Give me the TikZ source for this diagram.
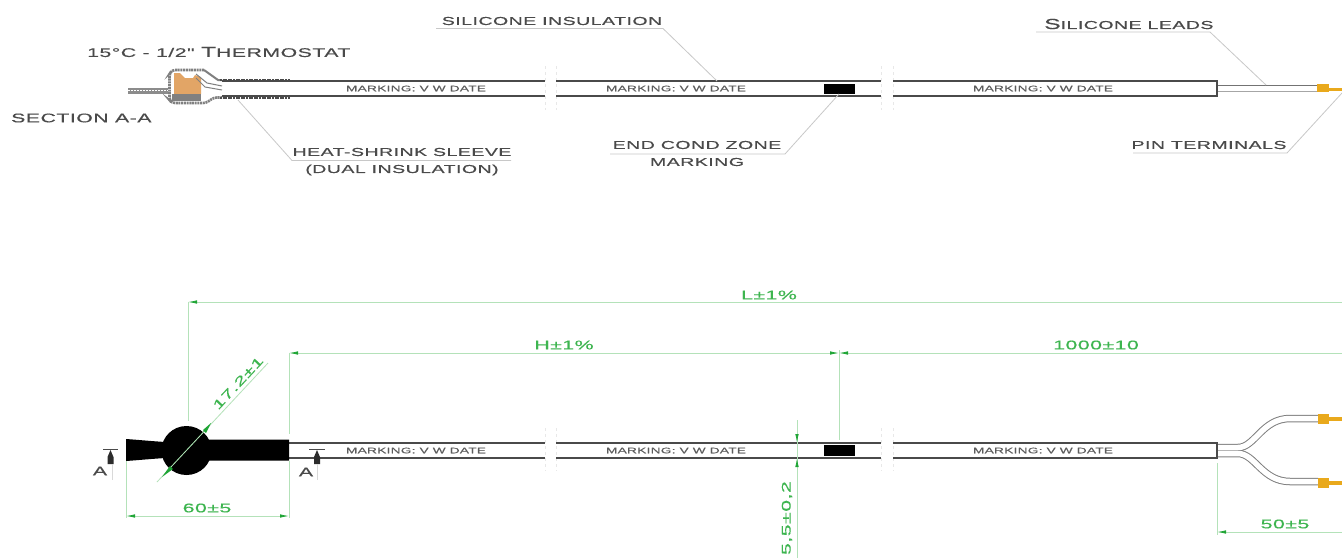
\documentclass[tikz,border=0pt]{standalone}
\usepackage{fontspec}
\usetikzlibrary{arrows.meta}
\newfontfamily\widefont[FakeStretch=1.7,LetterSpace=4,FakeBold=0.4]{Liberation Sans}
\newcommand{\capbig}[1]{{\fontsize{14.5}{14}\selectfont #1}}
\definecolor{dimline}{HTML}{B4E2B9}
\definecolor{dimtip}{HTML}{1FA535}
\definecolor{dimtext}{HTML}{3DB54F}
\definecolor{inkgray}{HTML}{4A4A4A}
\definecolor{leadergray}{HTML}{C8C8C8}
\definecolor{copper}{HTML}{E2A566}
\definecolor{pinorange}{HTML}{E9A91C}
\tikzset{
  lbl/.style={font=\widefont\fontsize{11.5}{12}\selectfont, text=inkgray, inner sep=0pt},
  bigl/.style={font=\widefont\fontsize{12.5}{13}\selectfont, text=inkgray, inner sep=0pt},
  marklbl/.style={font=\widefont\fontsize{8}{8}\selectfont, text=inkgray!90, inner sep=0pt},
  dimlbl/.style={font=\widefont\fontsize{12.5}{13}\selectfont, text=dimtext, inner sep=0pt},
  leader/.style={draw=leadergray, line width=.8pt},
  dimension/.style={draw=dimline, line width=.8pt},
  ext/.style={draw=dimline, line width=.8pt},
  tipb/.style={{Latex[length=9pt,width=3.5pt,color=dimtip]}-},
  tipe/.style={-{Latex[length=9pt,width=3.5pt,color=dimtip]}},
  tipbe/.style={{Latex[length=9pt,width=3.5pt,color=dimtip]}-{Latex[length=9pt,width=3.5pt,color=dimtip]}},
  cable/.style={draw=inkgray, line width=1.8pt},
  gapmark/.style={draw=black!9, line width=.5pt, dashed},
  secline/.style={draw=black!15, line width=.5pt},
}
\begin{document}
\begin{tikzpicture}[x=1pt,y=-1pt]
\useasboundingbox (0,0) rectangle (1342,558);
\fill[white] (0,0) rectangle (1342,558);

% ---------- gap ticks
\foreach \gx in {545,556,881,893}{
  \draw[gapmark] (\gx,66) -- (\gx,110);
  \draw[gapmark] (\gx,428) -- (\gx,471);
}

% ---------- cables
\foreach \ya/\yb/\xs/\xe in {81/96/222/545,81/96/556/881,81/96/893/1217,443/458/289/545,443/458/556/881,443/458/893/1217}{
  \draw[cable] (\xs,\ya) -- (\xe,\ya);
  \draw[cable] (\xs,\yb) -- (\xe,\yb);
}
\draw[cable] (1217,80.1) -- (1217,96.9);
\draw[cable] (1217,442.1) -- (1217,458.9);

\node[marklbl] (m1) at (416,88.5) {MARKING: V W DATE};
\node[marklbl] (m2) at (676,88.5) {MARKING: V W DATE};
\node[marklbl] (m3) at (1043,88.5) {MARKING: V W DATE};
\node[marklbl] (m4) at (416,450.5) {MARKING: V W DATE};
\node[marklbl] (m5) at (676,450.5) {MARKING: V W DATE};
\node[marklbl] (m6) at (1043,450.5) {MARKING: V W DATE};
\fill[black] (824,84) rectangle (855,93.5);
\fill[black] (824,445) rectangle (855,455.5);

% ---------- section A-A thermostat
\fill[black!45] (128,88) rectangle (168,93.5);
\draw[white,line width=.6pt,dash pattern=on 1.5pt off 1.5pt] (128,90.7) -- (168,90.7);
\fill[copper] (174,73) -- (180,73) -- (185,78) -- (193,78) -- (195,75) -- (201,77) -- (201,94) -- (174,94) -- cycle;
\fill[black!50] (172,94) rectangle (201,101);
\draw[black!50,line width=2.6pt,dash pattern=on 2pt off .7pt,rounded corners=3pt]
  (204,70) -- (172,70) -- (169.5,74) -- (169.5,100) -- (172,103) -- (206,103) -- (214,97.5) -- (222,97.5);
\draw[black!50,line width=2pt] (204,70) -- (218,80) -- (222,80);
\draw[black!50,line width=1pt] (196,74) -- (207,83) -- (222,86);
\draw[black!50,line width=1pt] (196,78) -- (205,87) -- (222,90);
\draw[inkgray,line width=2pt,dash pattern=on 2pt off .6pt] (220,79.5) -- (290,79.5);
\draw[inkgray,line width=2pt,dash pattern=on 2pt off .6pt] (220,98) -- (290,98);

% ---------- top lead
\draw[black!55,line width=1pt] (1218,85) -- (1317,85);
\draw[black!35,line width=1pt] (1218,91) -- (1317,91);
\fill[pinorange] (1317,84) rectangle (1329,92);
\fill[pinorange] (1329,88) rectangle (1342,91);

% ---------- top labels
\node[lbl] (sil) at (552,21) {SILICONE INSULATION};
\coordinate (silA) at (436,28.5);
\coordinate (silB) at (663,28.5);
\coordinate (silC) at (717,81);
\draw[leader] (silA) -- (silB) -- (silC);

\node[lbl,anchor=west] (leads) at (1044,24) {\capbig{S}ILICONE LEADS};
\coordinate (leadA) at (1036,32);
\coordinate (leadB) at (1210,32);
\coordinate (leadC) at (1266,85);
\draw[leader] (leadA) -- (leadB) -- (leadC);

\node[lbl] (pins) at (1209,145) {PIN TERMINALS};
\coordinate (pinA) at (1133,153);
\coordinate (pinB) at (1287,153);
\coordinate (pinC) at (1342,93);
\draw[leader] (pinA) -- (pinB) -- (pinC);

\node[lbl] (endc) at (697,145) {END COND ZONE};
\node[lbl] (endm) at (697,162) {MARKING};
\coordinate (endA) at (610,154);
\coordinate (endB) at (785,154);
\coordinate (endC) at (839,94);
\draw[leader] (endA) -- (endB) -- (endC);

\node[lbl] (heat) at (402,152) {HEAT-SHRINK SLEEVE};
\node[lbl] (dual) at (402,170) {(DUAL INSULATION)};
\coordinate (heatA) at (511,160.5);
\coordinate (heatB) at (292,160.5);
\coordinate (heatC) at (238,100);
\draw[leader] (heatA) -- (heatB) -- (heatC);

\node[bigl,anchor=west] (therm) at (87,52) {15\textdegree C - 1/2" \capbig{T}HERMOSTAT};
\node[bigl,anchor=west] (sect) at (11,118) {SECTION A-A};

% ---------- bottom black sleeve
\fill[black] (126,439) .. controls (140,440) and (150,441) .. (165,442) -- (205,439.5) -- (289,439.5) -- (289,460.5) -- (205,460.5) -- (165,458) .. controls (150,459) and (140,460) .. (126,461) -- cycle;
\fill[black] (186.5,450.5) ellipse (25 and 24.5);
\draw[dimtip!55!black,line width=.5pt] (169,469) -- (207,428);

% ---------- section marks
\node[lbl,font=\widefont\fontsize{12.5}{13}\selectfont] (aL) at (100,471) {A};
\node[lbl,font=\widefont\fontsize{12.5}{13}\selectfont] (aR) at (306,472) {A};
\draw[inkgray,line width=1.2pt] (103,449.5) -- (118,449.5);
\draw[inkgray,line width=1.2pt] (309,449.5) -- (325,449.5);
\fill[inkgray!60!black] (110.5,450) -- (113.5,457) -- (113.5,464) -- (107.5,464) -- (107.5,457) -- cycle;
\fill[inkgray!60!black] (317,450) -- (320,457) -- (320,464) -- (314,464) -- (314,457) -- cycle;
\draw[secline] (112,464) -- (112,480);
\draw[secline] (317,464) -- (317,480);

% ---------- bottom leads
\foreach \w/\c in {7.5/black!50,5.5/white}{
  \draw[\c,line width=\w pt,line join=round] (1218,447.5) -- (1238,447.5) .. controls (1255,447.5) and (1262,418.5) .. (1290,418.5) -- (1318,418.5);
  \draw[\c,line width=\w pt,line join=round] (1218,453.5) -- (1238,453.5) .. controls (1255,453.5) and (1262,481.5) .. (1290,481.5) -- (1318,481.5);
}
\fill[pinorange] (1318,414) rectangle (1329,424);
\fill[pinorange] (1329,416.5) rectangle (1342,421);
\fill[pinorange] (1318,478) rectangle (1329,488);
\fill[pinorange] (1329,480.5) rectangle (1342,485);

% ---------- dimensions
\coordinate (dLa) at (188,302);
\coordinate (dLb) at (1342,302);
\coordinate (dLe) at (188,421);
\draw[dimension,tipb] (dLa) -- (dLb);
\draw[ext] (dLa) -- (dLe);
\node[dimlbl] (Lt) at (769,295) {L±1\%};

\coordinate (dHa) at (289,353);
\coordinate (dHb) at (839,353);
\coordinate (dHc) at (1342,353);
\coordinate (dHe) at (289,434);
\coordinate (dHf) at (839,440);
\coordinate (dHg) at (839,350);
\draw[dimension,tipbe] (dHa) -- (dHb);
\draw[dimension,tipb] (dHb) -- (dHc);
\draw[ext] (dHa) -- (dHe);
\draw[ext] (dHg) -- (dHf);
\node[dimlbl] (Ht) at (564,345) {H±1\%};
\node[dimlbl] (kt) at (1096,345) {1000±10};

\coordinate (d17a) at (157,482);
\coordinate (d17b) at (268,363);
\draw[dimension] (d17a) -- (d17b);
\fill[dimtip] (162,477) -- (170,466) -- (173,469) -- cycle;
\fill[dimtip] (211,423) -- (203,430) -- (206,433) -- cycle;
\node[dimlbl,rotate=47] (d17t) at (238,383) {17.2±1};

\coordinate (d60a) at (126,516);
\coordinate (d60b) at (289,516);
\coordinate (d60c) at (126,461);
\coordinate (d60d) at (289,461);
\coordinate (d60e) at (126,518);
\coordinate (d60f) at (289,518);
\draw[dimension,tipbe] (d60a) -- (d60b);
\draw[ext] (d60c) -- (d60e);
\draw[ext] (d60d) -- (d60f);
\node[dimlbl] (d60t) at (207,508) {60±5};

\coordinate (d50a) at (1217,532);
\coordinate (d50b) at (1342,532);
\coordinate (d50c) at (1217,463);
\coordinate (d50e) at (1217,535);
\draw[dimension,tipb] (d50a) -- (d50b);
\draw[ext] (d50c) -- (d50e);
\node[dimlbl] (d50t) at (1285,524) {50±5};

\coordinate (d6a) at (797,420);
\coordinate (d6b) at (797,558);
\coordinate (d6c) at (797,431);
\coordinate (d6d) at (797,443);
\coordinate (d6e) at (797,470);
\coordinate (d6f) at (797,458);
\draw[dimension] (d6a) -- (d6b);
\draw[dimension,tipe] (d6c) -- (d6d);
\draw[dimension,tipe] (d6e) -- (d6f);
\node[dimlbl,rotate=90,anchor=east] (d6t) at (787,481) {5,5±0,2};
\end{tikzpicture}
\end{document}
